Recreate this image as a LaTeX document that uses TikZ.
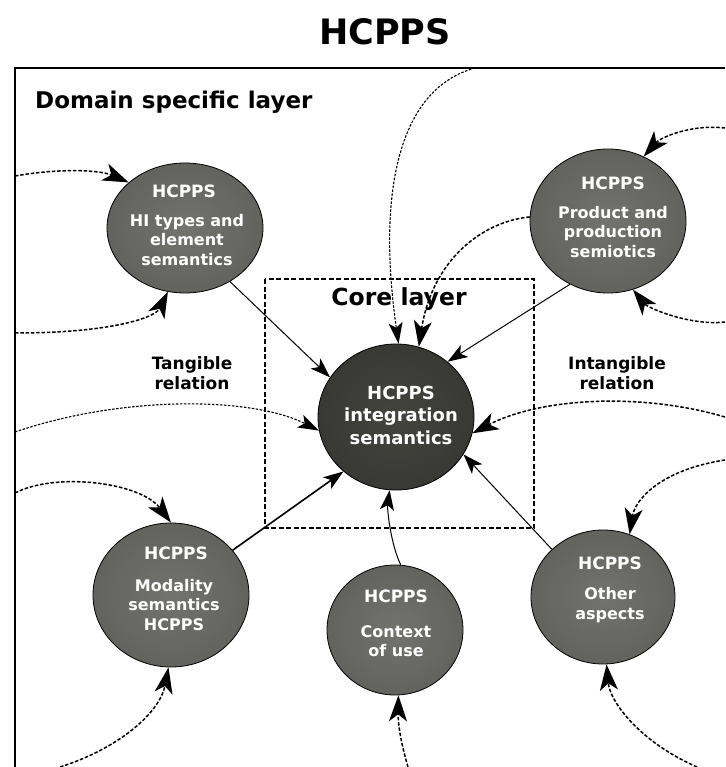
\documentclass[tikz,border=0pt]{standalone}
\usepackage{fontspec}
\setmainfont{DejaVu Sans}
\usetikzlibrary{arrows.meta,shapes.geometric}
\definecolor{satin}{HTML}{72726E}
\definecolor{satout}{HTML}{62625E}
\definecolor{corein}{HTML}{44443F}
\definecolor{coreout}{HTML}{383834}
\begin{document}
\begin{tikzpicture}[x=1pt,y=-1pt,
  sat/.style={ellipse, draw=black, line width=0.8pt, inner color=satin, outer color=satout, inner sep=0pt},
  corenode/.style={ellipse, draw=black, line width=0.8pt, inner color=corein, outer color=coreout, inner sep=0pt},
  wt/.style={text=white, font=\bfseries\fontsize{16}{19.5}\selectfont, align=center, inner sep=0pt},
  wh/.style={text=white, font=\bfseries\fontsize{17}{20}\selectfont, inner sep=0pt},
  lbl/.style={text=black, font=\bfseries\fontsize{17}{20}\selectfont, align=center, inner sep=0pt},
  arr/.style={-{Stealth[length=20pt,width=14pt,inset=5pt]}, line width=1pt},
  dsh/.style={-{Stealth[length=26pt,width=18pt,inset=7pt]}, line width=1.5pt, dash pattern=on 3.5pt off 1.8pt},
  dfine/.style={-{Stealth[length=21pt,width=14pt,inset=5pt]}, line width=1.1pt, dash pattern=on 2.5pt off 1.5pt}
]
\useasboundingbox (0,0) rectangle (725,767);

% title
\node[inner sep=0pt, font=\bfseries\fontsize{35}{40}\selectfont] (title) at (385,32) {HCPPS};

% outer frame (cut off at right and bottom)
\draw[line width=2pt] (15,767) -- (15,68) -- (725,68);

\node[lbl, font=\bfseries\fontsize{23}{26}\selectfont, anchor=west] (dsl) at (35,102) {Domain specific layer};

% core layer box
\draw[line width=1.5pt, dash pattern=on 5pt off 2.5pt] (265,279) rectangle (534,528);
\node[lbl, font=\bfseries\fontsize{23.5}{26}\selectfont] (cl) at (399,299) {Core layer};

\node[lbl] (tang) at (192,373) {Tangible\\relation};
\node[lbl] (intang) at (617,373) {Intangible\\relation};

% ellipses
\node[sat, minimum width=156pt, minimum height=130pt] (hi) at (185,228) {};
\node[sat, minimum width=156pt, minimum height=144pt] (prod) at (608,221) {};
\node[corenode, minimum width=156pt, minimum height=146pt] (core) at (396,417) {};
\node[sat, minimum width=156pt, minimum height=144pt] (mod) at (171,595) {};
\node[sat, minimum width=136pt, minimum height=130pt] (ctx) at (395,630) {};
\node[sat, minimum width=144pt, minimum height=134pt] (oth) at (603,597) {};

% texts
\node[wh] (hih) at (184,191) {HCPPS};
\node[wt] (hib) at (187,240) {HI types and\\element\\semantics};
\node[wh] (prodh) at (613,183) {HCPPS};
\node[wt] (prodb) at (613,232) {Product and\\production\\semiotics};
\node[wt, font=\bfseries\fontsize{18}{22.5}\selectfont] (coreb) at (401,415) {HCPPS\\integration\\semantics};
\node[wh] (modh) at (176,553) {HCPPS};
\node[wt] (modb) at (174,605) {Modality\\semantics\\HCPPS};
\node[wh] (ctxh) at (396,596) {HCPPS};
\node[wt] (ctxb) at (396,641) {Context\\of use};
\node[wh] (othh) at (610,563) {HCPPS};
\node[wt] (othb) at (610,605) {Other\\aspects};

% solid connectors
\draw[arr] (hi.310) -- (core.149);
\draw[arr] (prod.239) -- (core.47);
\draw[arr, line width=1.6pt] (mod.36) -- (core.226);
\draw[arr] (ctx.85) .. controls (391,545) and (387,510) .. (core.265);
\draw[arr] (oth.137) -- (core.331);

% free ends of the dotted connectors
\coordinate (t6) at (475,68);
\coordinate (l8) at (15,432);
\coordinate (r9) at (725,417);
\coordinate (l10) at (15,176);
\coordinate (l11) at (15,333);
\coordinate (r12) at (725,128);
\coordinate (r13) at (725,322);
\coordinate (l14) at (15,493);
\coordinate (b15) at (60,767);
\coordinate (b16) at (408,767);
\coordinate (r17) at (725,460);
\coordinate (b18) at (697,767);

% dotted connectors
\draw[dfine] (t6) .. controls (395,90) and (378,200) .. (core.88);
\draw[dsh] (prod.177) .. controls (480,222) and (432,262) .. (core.72);
\draw[dfine] (l8) .. controls (120,396) and (250,396) .. (core.190);
\draw[dsh] (r9) .. controls (640,392) and (540,398) .. (core.348);
\draw[dsh] (l10) .. controls (60,168) and (100,170) .. (hi.141);
\draw[dsh] (l11) .. controls (110,333) and (155,318) .. (hi.255);
\draw[dsh] (r12) .. controls (690,124) and (660,138) .. (prod.61);
\draw[dsh] (r13) .. controls (690,326) and (648,308) .. (prod.290);
\draw[dsh] (l14) .. controls (55,472) and (140,482) .. (mod.90);
\draw[dsh] (b15) .. controls (120,748) and (160,712) .. (mod.268);
\draw[dsh] (b16) .. controls (400,740) and (398,722) .. (ctx.273);
\draw[dsh] (r17) .. controls (660,470) and (635,500) .. (oth.67);
\draw[dsh] (b18) .. controls (640,742) and (610,702) .. (oth.273);
\end{tikzpicture}
\end{document}
